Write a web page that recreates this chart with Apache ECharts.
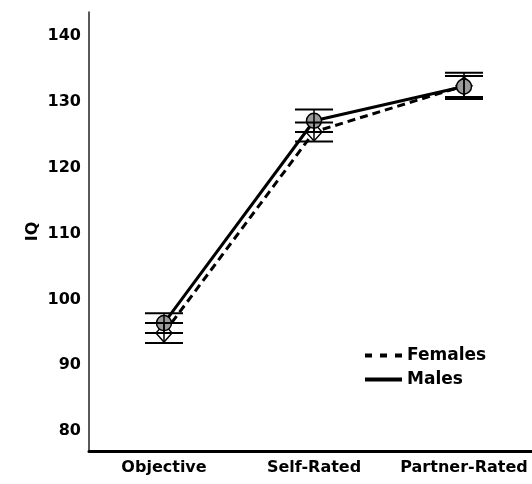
<!DOCTYPE html>
<html>
<head>
<meta charset="utf-8">
<script src="https://cdn.jsdelivr.net/npm/echarts@6/dist/echarts.min.js"></script>
<style>
html,body{margin:0;padding:0;background:#fff;}
#c{width:532px;height:484px;}
</style>
</head>
<body>
<div id="c"></div>
<script>
const categories = ['Objective', 'Self-Rated', 'Partner-Rated'];
const femalesMean = [94.9, 125.4, 132.4];
const femalesErr = [1.5, 1.45, 2.0];
const malesMean = [96.4, 127.1, 132.3];
const malesErr = [1.5, 1.7, 1.6];
const yTicks = [80, 90, 100, 110, 120, 130, 140];

const FONT = 'DejaVu Sans';

function errData(mean, err) {
  return mean.map((m, i) => [i, m - err[i], m + err[i]]);
}

function errRender(params, api) {
  const x = api.value(0);
  const lo = api.coord([x, api.value(1)]);
  const hi = api.coord([x, api.value(2)]);
  const hw = 19;
  return {
    type: 'group',
    children: [
      { type: 'line', shape: { x1: lo[0], y1: lo[1], x2: hi[0], y2: hi[1] }, style: { stroke: '#000', lineWidth: 1.5 } },
      { type: 'line', shape: { x1: lo[0] - hw, y1: lo[1], x2: lo[0] + hw, y2: lo[1] }, style: { stroke: '#000', lineWidth: 2 } },
      { type: 'line', shape: { x1: hi[0] - hw, y1: hi[1], x2: hi[0] + hw, y2: hi[1] }, style: { stroke: '#000', lineWidth: 2 } }
    ]
  };
}

const chart = echarts.init(document.getElementById('c'), null, { renderer: 'canvas' });
chart.setOption({
  animation: false,
  backgroundColor: '#fff',
  grid: { left: 89, top: 12, right: -7, bottom: 33, containLabel: false, outerBoundsMode: 'none' },
  legend: {
    orient: 'vertical',
    left: 365,
    top: 347,
    padding: 0,
    itemWidth: 37,
    itemHeight: 4,
    itemGap: 7,
    selectedMode: false,
    itemStyle: { color: '#000', borderWidth: 0 },
    textStyle: { fontFamily: FONT, fontWeight: 'bold', fontSize: 17, color: '#000' },
    data: [
      { name: 'Females', icon: 'path://M0,0h7v4h-7z M15,0h7v4h-7z M30,0h7v4h-7z' },
      { name: 'Males', icon: 'rect' }
    ]
  },
  xAxis: {
    type: 'category',
    data: categories,
    boundaryGap: true,
    axisLine: { lineStyle: { color: '#000', width: 3 } },
    axisTick: { show: false },
    axisLabel: { fontFamily: FONT, fontWeight: 'bold', fontSize: 16, color: '#000', margin: 9, interval: 0 },
    splitLine: { show: false }
  },
  yAxis: {
    type: 'value',
    min: 77,
    max: 143.6,
    name: 'IQ',
    nameLocation: 'middle',
    nameGap: 48,
    nameMoveOverlap: false,
    nameRotate: 90,
    nameTextStyle: { fontFamily: FONT, fontWeight: 'bold', fontSize: 16, color: '#000' },
    axisLine: { show: true, lineStyle: { color: '#222', width: 1.5 } },
    axisTick: { show: false },
    splitLine: { show: false },
    axisLabel: {
      fontFamily: FONT, fontWeight: 'bold', fontSize: 16, color: '#000', margin: 8,
      showMinLabel: false, showMaxLabel: false,
      formatter: v => (yTicks.indexOf(Math.round(v * 1000) / 1000) >= 0 ? String(v) : '')
    }
  },
  series: [
    {
      name: 'Females',
      type: 'line',
      data: femalesMean,
      color: '#000',
      lineStyle: { color: '#000', width: 3, type: [8, 5] },
      symbol: 'diamond',
      symbolSize: [16, 18],
      itemStyle: { color: '#fff', borderColor: '#000', borderWidth: 1.5 },
      z: 2
    },
    {
      name: 'Males',
      type: 'line',
      data: malesMean,
      color: '#000',
      lineStyle: { color: '#000', width: 3 },
      symbol: 'circle',
      symbolSize: 15,
      itemStyle: { color: '#9a9a9a', borderColor: '#000', borderWidth: 1.5 },
      z: 3
    },
    {
      name: 'Females SE',
      type: 'custom',
      data: errData(femalesMean, femalesErr),
      encode: { x: 0, y: [1, 2] },
      renderItem: errRender,
      z: 5
    },
    {
      name: 'Males SE',
      type: 'custom',
      data: errData(malesMean, malesErr),
      encode: { x: 0, y: [1, 2] },
      renderItem: errRender,
      z: 5
    }
  ]
});
</script>
</body>
</html>
